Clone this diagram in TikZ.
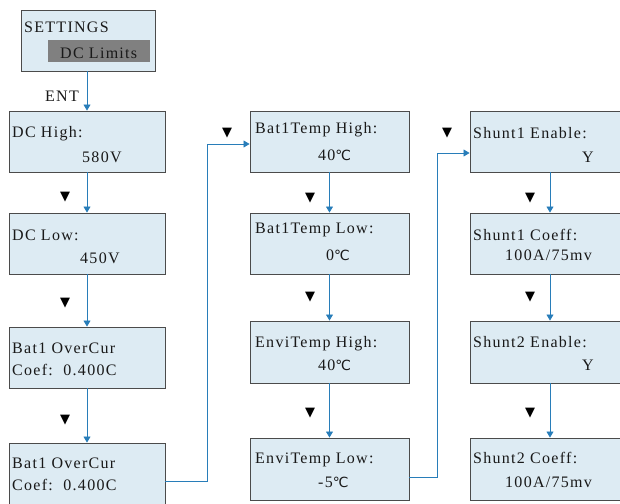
\documentclass[tikz,border=0pt]{standalone}
\usepackage{fontspec}
\setmainfont{Liberation Serif}[LetterSpace=8]
\newfontfamily\symfont{DejaVu Sans}
\usetikzlibrary{arrows.meta}
\definecolor{boxfill}{RGB}{221,235,243}
\definecolor{boxline}{RGB}{75,75,75}
\definecolor{linkblue}{RGB}{40,125,185}
\definecolor{hlgray}{RGB}{128,128,128}
\definecolor{txt}{RGB}{25,25,25}
\newcommand{\degC}{{\symfont\fontsize{14}{14}\selectfont ℃}}
\tikzset{
  menubox/.style={draw=boxline, line width=0.9pt, fill=boxfill, inner sep=0pt},
  lbl/.style={anchor=base west, inner sep=0pt, text=txt, font=\fontsize{16}{18}\selectfont},
  link/.style={draw=linkblue, line width=0.8pt, -{Triangle[width=7pt,length=6pt]}},
  tri/.style={inner sep=0pt, text=black, font=\symfont\fontsize{13}{13}\selectfont}
}
\begin{document}
\begin{tikzpicture}[x=1pt,y=-1pt]
\useasboundingbox (0,0) rectangle (620,503);
% settings box
\node[menubox, minimum width=134pt, minimum height=61pt] (set) at (88,40.5) {};
\node[fill=hlgray, inner sep=0pt, minimum width=102pt, minimum height=22pt] (hl) at (99,51) {};
\node[lbl] (t0) at (24,33) {SETTINGS};
\node[lbl] (t0b) at (60,58) {DC Limits};
\node[lbl] (ent) at (45,101) {ENT};
% column 1
\node[menubox, minimum width=156pt, minimum height=61pt] (a1) at (87,141.5) {};
\node[menubox, minimum width=156pt, minimum height=61pt] (a2) at (87,243.5) {};
\node[menubox, minimum width=156pt, minimum height=61pt] (a3) at (87,357.5) {};
\node[menubox, minimum width=156pt, minimum height=70pt] (a4) at (87,478) {};
% column 2
\node[menubox, minimum width=159pt, minimum height=61pt] (b1) at (329.5,141.5) {};
\node[menubox, minimum width=159pt, minimum height=61pt] (b2) at (329.5,243.5) {};
\node[menubox, minimum width=159pt, minimum height=62pt] (b3) at (329.5,352) {};
\node[menubox, minimum width=159pt, minimum height=62pt] (b4) at (329.5,469) {};
% column 3
\node[menubox, minimum width=160pt, minimum height=61pt] (c1) at (550,141.5) {};
\node[menubox, minimum width=160pt, minimum height=61pt] (c2) at (550,243.5) {};
\node[menubox, minimum width=160pt, minimum height=62pt] (c3) at (550,352) {};
\node[menubox, minimum width=160pt, minimum height=62pt] (c4) at (550,469) {};
% texts column 1
\node[lbl] at (12,137) {DC High:};
\node[lbl] at (82,162) {580V};
\node[lbl] at (12,240) {DC Low:};
\node[lbl] at (80,263) {450V};
\node[lbl] at (12,353) {Bat1 OverCur};
\node[lbl] at (12,375) {Coef:\ \ 0.400C};
\node[lbl] at (12,468) {Bat1 OverCur};
\node[lbl] at (12,490) {Coef:\ \ 0.400C};
% texts column 2
\node[lbl] at (255,133) {Bat1Temp High:};
\node[lbl] at (318,160) {40\degC};
\node[lbl] at (255,233) {Bat1Temp Low:};
\node[lbl] at (326,260) {0\degC};
\node[lbl] at (255,347) {EnviTemp High:};
\node[lbl] at (318,370) {40\degC};
\node[lbl] at (255,463) {EnviTemp Low:};
\node[lbl] at (318,487) {-5\degC};
% texts column 3
\node[lbl] at (473,138) {Shunt1 Enable:};
\node[lbl] at (582,162) {Y};
\node[lbl] at (473,240) {Shunt1 Coeff:};
\node[lbl] at (505,260) {100A/75mv};
\node[lbl] at (473,347) {Shunt2 Enable:};
\node[lbl] at (582,370) {Y};
\node[lbl] at (473,463) {Shunt2 Coeff:};
\node[lbl] at (505,487) {100A/75mv};
% markers
\node[tri] (m1) at (65,197) {▼};
\node[tri] (m2) at (65,303) {▼};
\node[tri] (m3) at (65,420) {▼};
\node[tri] (m4) at (227,133) {▼};
\node[tri] (m5) at (310,198) {▼};
\node[tri] (m6) at (310,297) {▼};
\node[tri] (m7) at (310,413) {▼};
\node[tri] (m8) at (447,133) {▼};
\node[tri] (m9) at (530,198) {▼};
\node[tri] (m10) at (530,297) {▼};
\node[tri] (m11) at (530,413) {▼};
% vertical links
\draw[link] (set.south -| a1) -- (a1.north);
\draw[link] (a1.south) -- (a2.north);
\draw[link] (a2.south) -- (a3.north);
\draw[link] (a3.south) -- (a4.north);
\draw[link] (b1.south) -- (b2.north);
\draw[link] (b2.south) -- (b3.north);
\draw[link] (b3.south) -- (b4.north);
\draw[link] (c1.south) -- (c2.north);
\draw[link] (c2.south) -- (c3.north);
\draw[link] (c3.south) -- (c4.north);
% column jumps
\coordinate (j1) at (207,481);
\coordinate (j2) at (437,477);
\draw[link] (a4.east |- j1) -- (j1) |- ([yshift=-2.5pt]b1.west);
\draw[link] (b4.east |- j2) -- (j2) |- ([yshift=-11.5pt]c1.west);
\end{tikzpicture}
\end{document}
